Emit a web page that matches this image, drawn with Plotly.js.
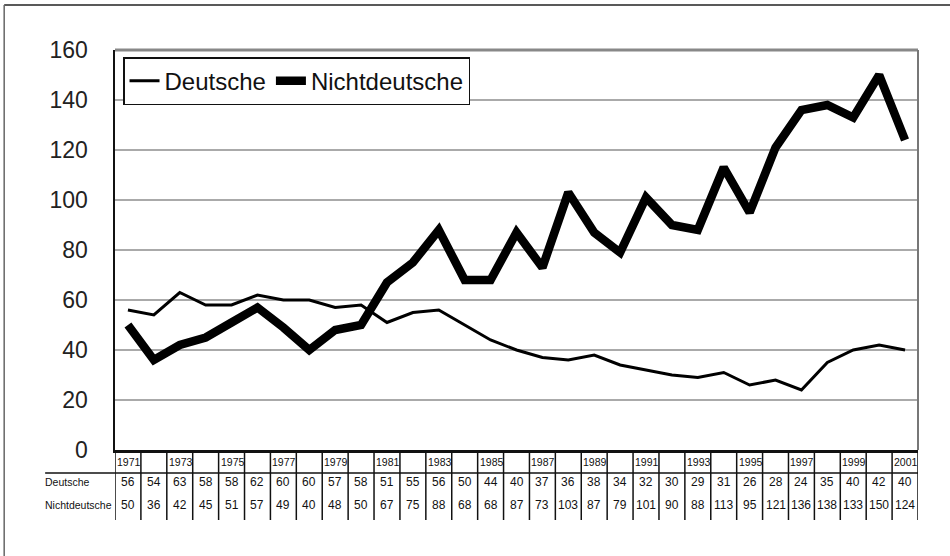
<!DOCTYPE html>
<html><head><meta charset="utf-8">
<script src="https://cdn.plot.ly/plotly-3.0.1.min.js"></script>
<style>html,body{margin:0;padding:0;background:#fff}#chart{width:950px;height:556px}</style>
</head><body><div id="chart"></div>
<script>
const years = [1971,1972,1973,1974,1975,1976,1977,1978,1979,1980,1981,1982,1983,1984,1985,1986,1987,1988,1989,1990,1991,1992,1993,1994,1995,1996,1997,1998,1999,2000,2001];
const deutsche = [56,54,63,58,58,62,60,60,57,58,51,55,56,50,44,40,37,36,38,34,32,30,29,31,26,28,24,35,40,42,40];
const nichtdeutsche = [50,36,42,45,51,57,49,40,48,50,67,75,88,68,68,87,73,103,87,79,101,90,88,113,95,121,136,138,133,150,124];
const rowLabels = ["Deutsche","Nichtdeutsche"];
const yTicks = [0,20,40,60,80,100,120,140,160];

const idx = years.map((_, i) => i);
const fam = "Liberation Sans, Arial, sans-serif";
const valFont = {family: fam, size: 12, color: "#111"};
const yearFont = {family: fam, size: 10.5, color: "#111"};
const labFont = {family: fam, size: 10.5, color: "#111"};

const traces = [
  {x: idx, y: deutsche, name: "Deutsche", type: "scatter", mode: "lines",
   line: {color: "#000", width: 3}},
  {x: idx, y: nichtdeutsche, name: "Nichtdeutsche", type: "scatter", mode: "lines",
   line: {color: "#000", width: 8.5}}
];

const annotations = [];
const shapes = [];
const yYear = -0.03, yD = -0.08, yN = -0.137;
years.forEach((yr, i) => {
  if (yr % 2 === 1) {
    annotations.push({x: i - 0.5, y: yYear, xref: "x", yref: "paper", text: String(yr),
      showarrow: false, xanchor: "left", yanchor: "middle", xshift: 0, font: yearFont});
  }
  annotations.push({x: i, y: yD, xref: "x", yref: "paper", text: String(deutsche[i]),
    showarrow: false, xanchor: "center", yanchor: "middle", font: valFont});
  annotations.push({x: i, y: yN, xref: "x", yref: "paper", text: String(nichtdeutsche[i]),
    showarrow: false, xanchor: "center", yanchor: "middle", font: valFont});
});
for (let i = 0; i <= years.length; i++) {
  shapes.push({type: "line", xref: "x", yref: "paper", x0: i - 0.5, x1: i - 0.5,
    y0: -0.005, y1: -0.175, line: {color: "#111", width: 1.5}});
}
annotations.push({x: -0.09, y: yD, xref: "paper", yref: "paper", text: rowLabels[0],
  showarrow: false, xanchor: "left", yanchor: "middle", font: labFont});
annotations.push({x: -0.09, y: yN, xref: "paper", yref: "paper", text: rowLabels[1],
  showarrow: false, xanchor: "left", yanchor: "middle", font: labFont});
shapes.push({type: "line", xref: "paper", yref: "paper", x0: -0.087, x1: 1.0, y0: -0.0575, y1: -0.0575,
  line: {color: "#111", width: 1.5}});
shapes.push({type: "line", xref: "paper", yref: "paper", x0: 0, x1: 1, y0: 1, y1: 1, line: {color: "#888", width: 3}});
shapes.push({type: "line", xref: "paper", yref: "paper", x0: 1, x1: 1, y0: 0, y1: 1, line: {color: "#777", width: 2}});
shapes.push({type: "line", xref: "paper", yref: "paper", x0: -0.138, x1: 1.05, y0: 1.1125, y1: 1.1125, line: {color: "#222", width: 1.5}});
shapes.push({type: "line", xref: "paper", yref: "paper", x0: -0.138, x1: -0.138, y0: 1.1125, y1: -0.3, line: {color: "#666", width: 1.5}});

const layout = {
  width: 950, height: 556,
  margin: {l: 115, r: 32, t: 50, b: 106},
  paper_bgcolor: "#fff", plot_bgcolor: "#fff",
  showlegend: true,
  legend: {x: 0.01, y: 0.982, xanchor: "left", yanchor: "top", orientation: "h",
    bordercolor: "#111", borderwidth: 1.5, bgcolor: "#fff", itemwidth: 30,
    font: {family: fam, size: 24, color: "#111"},
    tracegroupgap: 0, itemclick: false},
  xaxis: {range: [-0.5, years.length - 0.5], showticklabels: false, ticks: "", showgrid: false,
    zeroline: false, showline: true, linecolor: "#111", linewidth: 2.5, fixedrange: true},
  yaxis: {range: [0, 160], tickvals: yTicks, ticktext: yTicks.map(String), ticks: "",
    showgrid: true, gridcolor: "#aaa", gridwidth: 1.5, zeroline: false,
    showline: true, linecolor: "#111", linewidth: 2.5, ticklabelstandoff: 20,
    tickfont: {family: fam, size: 23, color: "#222"}, fixedrange: true},
  annotations: annotations,
  shapes: shapes
};
Plotly.newPlot("chart", traces, layout, {displayModeBar: false, staticPlot: true});
</script></body></html>
